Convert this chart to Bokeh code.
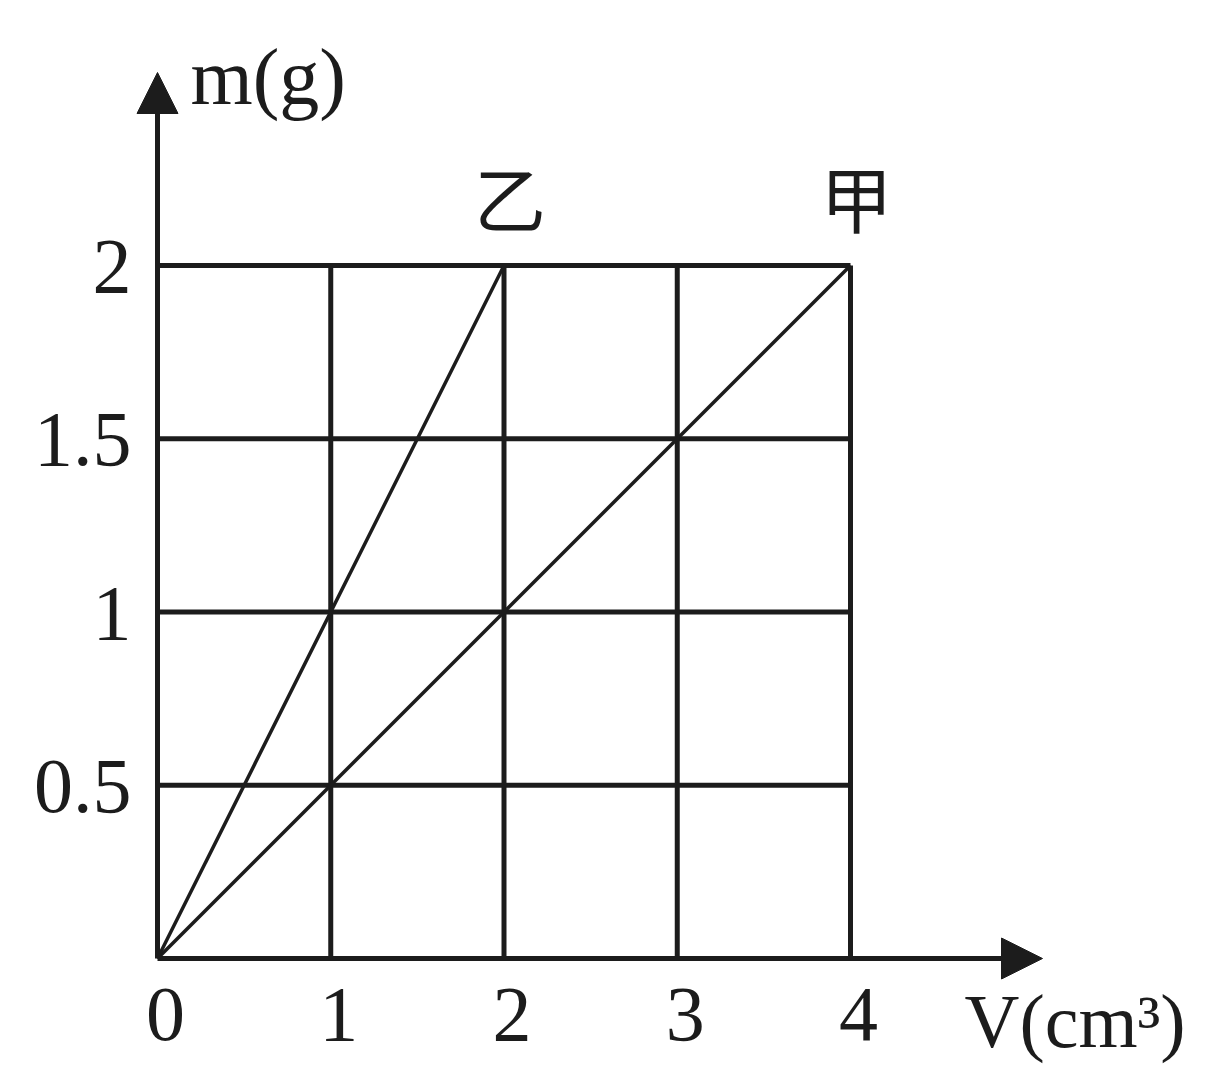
from bokeh.plotting import figure
from bokeh.models import Arrow, NormalHead, Range1d
from bokeh.core.properties import value
from bokeh.embed import file_html
from bokeh.resources import INLINE

# ---- data ----
V_ticks = [0, 1, 2, 3, 4]
x_tick_labels = ["0", "1", "2", "3", "4"]
m_ticks = [0.5, 1, 1.5, 2]
y_tick_labels = ["0.5", "1", "1.5", "2"]
jia_V = [0, 4]
jia_m = [0, 2]
yi_V = [0, 2]
yi_m = [0, 2]
series_names = ["甲", "乙"]
x_title = "V(cm³)"
y_title = "m(g)"

# ---- layout ----
W, H = 1205, 1066
px_per_V = 173.25
px_per_m = 346.5
org_x, org_y = 157, 958          # origin in canvas pixels
x0 = -org_x / px_per_V
x1 = x0 + W / px_per_V
y1 = org_y / px_per_m
y0 = y1 - H / px_per_m

INK = "#1c1c1c"
SERIF = value("Liberation Serif")
CJK = value("Noto Sans CJK SC")

p = figure(width=W, height=H, output_backend="svg", toolbar_location=None,
           x_range=Range1d(x0, x1), y_range=Range1d(y0, y1),
           min_border=0, outline_line_color=None, background_fill_color="white",
           border_fill_color="white")
p.xaxis.visible = False
p.yaxis.visible = False
p.grid.visible = False

Vmax = max(V_ticks)
mmax = max(m_ticks)

# grid lines
vx = V_ticks[1:]
p.segment(x0=vx, y0=[0] * len(vx), x1=vx, y1=[mmax] * len(vx), line_color=INK, line_width=5)
p.segment(x0=[0] * len(m_ticks), y0=m_ticks, x1=[Vmax] * len(m_ticks), y1=m_ticks,
          line_color=INK, line_width=5)

# series lines
p.line(jia_V, jia_m, line_color=INK, line_width=3.5)
p.line(yi_V, yi_m, line_color=INK, line_width=3.5)

# axes with arrows
x_tip = (1042 - org_x) / px_per_V
y_tip = (org_y - 72) / px_per_m
head = dict(size=41, fill_color=INK, line_color=INK, line_width=1)
p.add_layout(Arrow(end=NormalHead(**head), x_start=0, y_start=0, x_end=x_tip, y_end=0,
                   line_color=INK, line_width=5))
p.add_layout(Arrow(end=NormalHead(**head), x_start=0, y_start=0, x_end=0, y_end=y_tip,
                   line_color=INK, line_width=5))

# tick labels
p.text(x=V_ticks, y=[0] * len(V_ticks), text=x_tick_labels, text_font=SERIF,
       text_font_size="78px", text_color=INK, text_align="center",
       text_baseline="alphabetic", x_offset=8, y_offset=56)
p.text(x=[0] * len(m_ticks), y=m_ticks, text=y_tick_labels, text_font=SERIF,
       text_font_size="78px", text_color=INK, text_align="right",
       text_baseline="alphabetic", x_offset=-26, y_offset=1)

# axis titles
p.text(x=[0], y=[y_tip], text=[y_title], text_font=SERIF, text_font_size="80px",
       text_color=INK, text_align="left", text_baseline="alphabetic",
       x_offset=33, y_offset=4)
p.text(x=[x_tip], y=[0], text=[x_title], text_font=SERIF, text_font_size="76px",
       text_color=INK, text_align="left", text_baseline="alphabetic",
       x_offset=-78, y_offset=62)

# series names
p.text(x=[jia_V[-1], yi_V[-1]], y=[jia_m[-1], yi_m[-1]], text=series_names,
       text_font=CJK, text_font_size="72px", text_color=INK, text_align="center",
       text_baseline="middle", x_offset=6, y_offset=-70)

open("out.html", "w").write(file_html(p, INLINE))
